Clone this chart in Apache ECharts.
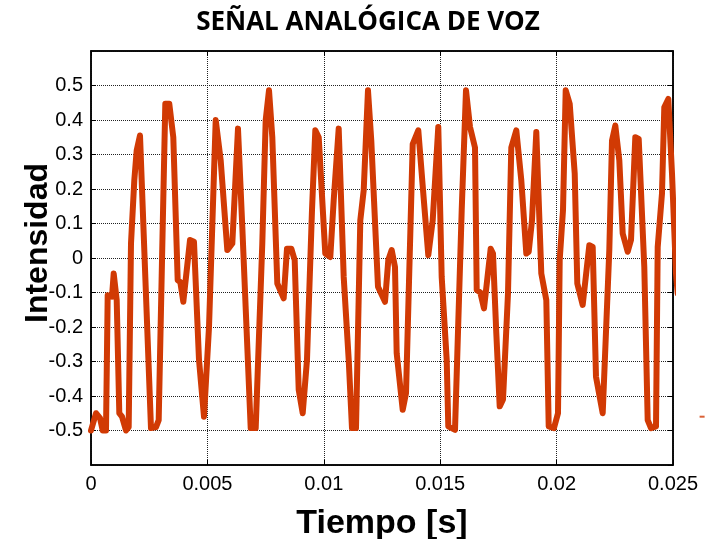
<!DOCTYPE html>
<html>
<head>
<meta charset="utf-8">
<script src="https://cdn.jsdelivr.net/npm/echarts@6/dist/echarts.min.js"></script>
<style>
  html, body { margin: 0; padding: 0; background: #fff; }
  #chart { width: 713px; height: 539px; }
</style>
</head>
<body>
<div id="chart"></div>
<script>
// muestras (tiempo en s, intensidad)
var tiempo = [
  0, 0.000215, 0.000387, 0.000503, 0.000644, 0.000717, 0.000902, 0.000975, 0.001104, 0.001216,
  0.001332, 0.001503, 0.001619, 0.001718, 0.00186, 0.001963, 0.002105, 0.002577, 0.002792, 0.002908,
  0.00308, 0.003192, 0.003363, 0.003535, 0.003724, 0.003836, 0.003965, 0.004253, 0.004424, 0.004639,
  0.004854, 0.005069, 0.005357, 0.005571, 0.005855, 0.00607, 0.006314, 0.006499, 0.00686, 0.007075,
  0.007358, 0.007504, 0.007646, 0.007788, 0.008003, 0.008277, 0.008419, 0.008604, 0.00875, 0.008922,
  0.009094, 0.009278, 0.009493, 0.009635, 0.009781, 0.010064, 0.010279, 0.010425, 0.01064, 0.010855,
  0.01107, 0.011211, 0.011383, 0.011568, 0.011714, 0.011898, 0.01204, 0.012328, 0.012629, 0.012771,
  0.012917, 0.013058, 0.013131, 0.013389, 0.013531, 0.013819, 0.014059, 0.014274, 0.014489, 0.014678,
  0.014918, 0.015064, 0.015279, 0.015348, 0.015636, 0.015924, 0.016108, 0.01628, 0.016495, 0.016568,
  0.016724, 0.016881, 0.017169, 0.017268, 0.01741, 0.017556, 0.017698, 0.017912, 0.018054, 0.018269,
  0.018484, 0.018699, 0.018802, 0.018943, 0.019128, 0.019343, 0.019558, 0.019661, 0.019888, 0.02006,
  0.020133, 0.020275, 0.020391, 0.020563, 0.020778, 0.020889, 0.021121, 0.021405, 0.021551, 0.021692,
  0.02198, 0.022264, 0.02238, 0.022522, 0.022694, 0.022839, 0.023054, 0.023196, 0.023381, 0.023527,
  0.023767, 0.023913, 0.024055, 0.02427, 0.024343, 0.024527, 0.024626, 0.024798, 0.024957, 0.025129,
  0.025202
];
var intensidad = [
  -0.50, -0.45, -0.464, -0.50, -0.50, -0.108, -0.112, -0.045, -0.122, -0.45,
  -0.46, -0.50, -0.49, 0.042, 0.225, 0.312, 0.355, -0.493, -0.49, -0.47,
  0.09, 0.447, 0.447, 0.35, -0.064, -0.07, -0.127, 0.052, 0.047, -0.295,
  -0.46, -0.20, 0.40, 0.283, 0.023, 0.042, 0.375, 0.09, -0.493, -0.493,
  0.042, 0.40, 0.486, 0.35, -0.074, -0.117, 0.027, 0.027, -0.006, -0.382,
  -0.45, -0.295, 0.139, 0.37, 0.35, 0.013, 0.003, 0.167, 0.375, -0.055,
  -0.295, -0.493, -0.493, 0.109, 0.196, 0.486, 0.34, -0.083, -0.127, -0.006,
  0.023, -0.026, -0.276, -0.44, -0.392, 0.33, 0.37, 0.187, 0.008, 0.109,
  0.38, -0.055, -0.295, -0.488, -0.498, 0.139, 0.486, 0.38, 0.32, -0.093,
  -0.10, -0.146, 0.027, 0.013, -0.218, -0.43, -0.41, -0.103, 0.32, 0.37,
  0.225, 0.013, 0.018, 0.109, 0.365, -0.045, -0.122, -0.488, -0.493, -0.45,
  -0.006, 0.139, 0.486, 0.447, 0.245, -0.074, -0.136, 0.037, 0.032, -0.344,
  -0.45, 0.023, 0.34, 0.384, 0.283, 0.071, 0.018, 0.052, 0.35, 0.345,
  -0.026, -0.47, -0.493, -0.488, 0.032, 0.187, 0.437, 0.461, 0.245, -0.045,
  -0.103
];
// pequeña marca suelta a la derecha del eje
var marcaSuelta = [[0.02625, -0.46]];

var xTicks = [0, 0.025, 0.005];      // min, max, intervalo
var yTicks = [-0.6, 0.6, 0.1];

var rojo = '#D13A04';

var serie = tiempo.map(function (t, i) { return [t, intensidad[i]]; });

var myChart = echarts.init(document.getElementById('chart'));
var option = {
    animation: false,
    title: {
        text: 'SEÑAL ANALÓGICA DE VOZ',
        left: 363,
        top: 5,
        textAlign: 'center',
        textStyle: {
            fontFamily: 'Open Sans',
            fontWeight: 'bold',
            fontSize: 26,
            color: '#000'
        }
    },
    grid: {
        left: 91,
        right: 40,
        top: 51,
        bottom: 74,
        outerBoundsMode: 'none',
        show: true,
        borderColor: '#000',
        borderWidth: 1.5
    },
    xAxis: [{
        type: 'value',
        min: xTicks[0],
        max: xTicks[1],
        interval: xTicks[2],
        name: 'Tiempo [s]',
        nameLocation: 'middle',
        nameGap: 42,
        nameMoveOverlap: false,
        nameTextStyle: {
            fontFamily: 'Liberation Sans',
            fontWeight: 'bold',
            fontSize: 34,
            color: '#000'
        },
        axisLine: { show: true, onZero: false, lineStyle: { color: '#000', width: 1.5 } },
        axisTick: { show: true, inside: true, length: 5, lineStyle: { color: '#000' } },
        axisLabel: {
            margin: 9,
            fontFamily: 'Liberation Sans',
            fontSize: 20,
            color: '#000'
        },
        splitLine: { show: true, lineStyle: { color: '#222', type: 'dotted', width: 1 } }
    }, {
        type: 'value',
        position: 'top',
        min: xTicks[0],
        max: xTicks[1],
        interval: xTicks[2],
        axisLine: { show: true, onZero: false, lineStyle: { color: '#000', width: 1.5 } },
        axisTick: { show: true, inside: true, length: 5, lineStyle: { color: '#000' } },
        axisLabel: { show: false },
        splitLine: { show: false }
    }],
    yAxis: [{
        type: 'value',
        min: yTicks[0],
        max: yTicks[1],
        interval: yTicks[2],
        name: 'Intensidad',
        nameLocation: 'middle',
        nameGap: 37,
        nameRotate: 90,
        nameMoveOverlap: false,
        nameTextStyle: {
            fontFamily: 'Liberation Sans',
            fontWeight: 'bold',
            fontSize: 32,
            color: '#000',
            padding: [0, 0, 0, 30]
        },
        axisLine: { show: true, onZero: false, lineStyle: { color: '#000', width: 1.5 } },
        axisTick: { show: true, inside: true, length: 5, lineStyle: { color: '#000' } },
        axisLabel: {
            showMinLabel: false,
            showMaxLabel: false,
            margin: 8,
            fontFamily: 'Liberation Sans',
            fontSize: 20,
            color: '#000'
        },
        splitLine: { show: true, lineStyle: { color: '#222', type: 'dotted', width: 1 } }
    }, {
        type: 'value',
        position: 'right',
        min: yTicks[0],
        max: yTicks[1],
        interval: yTicks[2],
        axisLine: { show: true, onZero: false, lineStyle: { color: '#000', width: 1.5 } },
        axisTick: { show: true, inside: true, length: 5, lineStyle: { color: '#000' } },
        axisLabel: { show: false },
        splitLine: { show: false }
    }],
    series: [{
        name: 'voz',
        type: 'line',
        data: serie,
        clip: false,
        showSymbol: false,
        symbol: 'none',
        lineStyle: { color: rojo, width: 6, join: 'round', cap: 'round' },
        itemStyle: { color: rojo }
    }, {
        name: 'marca',
        type: 'scatter',
        data: marcaSuelta,
        clip: false,
        symbol: 'rect',
        symbolSize: [5, 2],
        itemStyle: { color: rojo }
    }]
};
myChart.setOption(option);
</script>
</body>
</html>
